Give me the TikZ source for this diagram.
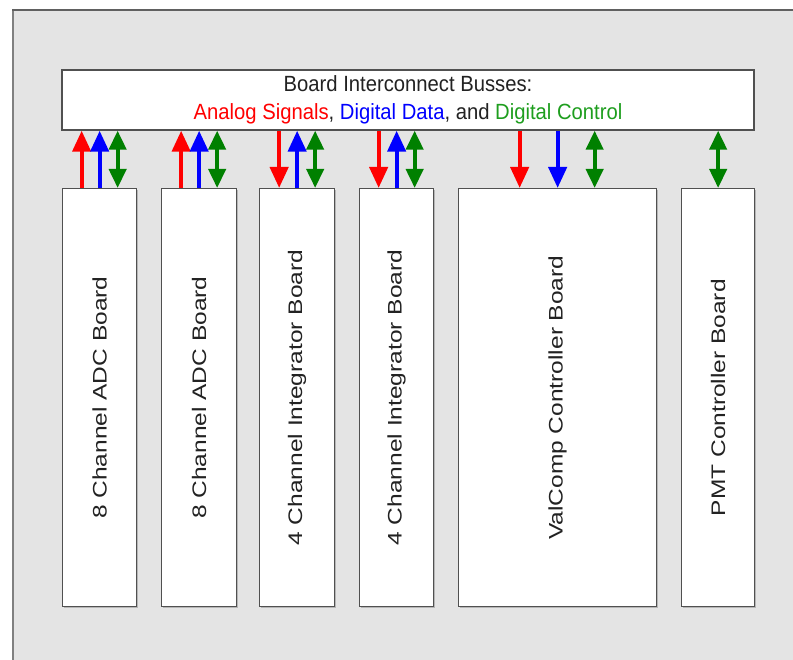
\documentclass[tikz,border=0pt]{standalone}
\usepackage{fontspec}
\setmainfont{Liberation Sans}
\newfontfamily\busfont[FakeStretch=0.92]{Liberation Sans}
\usetikzlibrary{arrows.meta,shadows}
\definecolor{bggray}{HTML}{E4E4E4}
\definecolor{edgegray}{HTML}{505050}
\definecolor{sigred}{HTML}{FF0000}
\definecolor{sigblue}{HTML}{0000FF}
\definecolor{siggreen}{HTML}{008000}
\definecolor{txtgreen}{HTML}{1E9E1E}
\definecolor{txtgray}{HTML}{222222}
\newcommand{\boardlabel}[1]{\rotatebox{90}{\scalebox{1}[0.8]{\fontsize{24.5}{28}\selectfont #1}}}
\begin{document}
\begin{tikzpicture}[x=1pt,y=-1pt,
  box/.style={draw=edgegray, line width=1.3pt, fill=white, inner sep=0pt, text=txtgray,
    drop shadow={shadow xshift=1pt, shadow yshift=-1.2pt, opacity=0.45}},
  board/.style={box, anchor=north west, minimum height=418pt},
  sig/.style={line width=4.2pt, -{Triangle[length=21pt,width=18pt]}},
  ctl/.style={line width=4pt, {Triangle[length=19pt,width=17pt]}-{Triangle[length=19pt,width=17pt]}, draw=siggreen}
]
\useasboundingbox (0,0) rectangle (793,660);
\fill[white] (0,0) rectangle (793,660);
\fill[bggray] (12,9) rectangle (793,660);
\draw[gray, line width=1.5pt] (12.75,9) -- (12.75,660);
\draw[gray!75!black, line width=2pt] (12,10) -- (793,10);

\node[box, minimum width=692pt, minimum height=60pt, align=center,
  font={\busfont\fontsize{22}{28}\selectfont}] (bus) at (408,100)
  {Board Interconnect Busses:\\
   {\color{sigred}Analog Signals}, {\color{sigblue}Digital Data}, and {\color{txtgreen}Digital Control}};

\node[board, minimum width=74pt] (b1) at (62,188) {\boardlabel{8 Channel ADC Board}};
\node[board, minimum width=75pt] (b2) at (161,188) {\boardlabel{8 Channel ADC Board}};
\node[board, minimum width=75pt] (b3) at (259,188) {\boardlabel{4 Channel Integrator Board}};
\node[board, minimum width=74pt] (b4) at (359,188) {\boardlabel{4 Channel Integrator Board}};
\node[board, minimum width=198pt] (b5) at (458,188) {\boardlabel{ValComp Controller Board}};
\node[board, minimum width=73pt] (b6) at (681,188) {\boardlabel{PMT Controller Board}};

% board 1 and 2: analog up, data up, control both
\foreach \b in {b1,b2}{
  \draw[sig, draw=sigred] ([xshift=-18pt]\b.north) -- ([xshift=-18pt]bus.south -| \b.north);
  \draw[sig, draw=sigblue] ([xshift=0pt]\b.north) -- ([xshift=0pt]bus.south -| \b.north);
  \draw[ctl] ([xshift=18pt]\b.north) -- ([xshift=18pt]bus.south -| \b.north);
}
% board 3 and 4: analog down, data up
\foreach \b in {b3,b4}{
  \draw[sig, draw=sigred] ([xshift=-18pt]bus.south -| \b.north) -- ([xshift=-18pt]\b.north);
  \draw[sig, draw=sigblue] ([xshift=0pt]\b.north) -- ([xshift=0pt]bus.south -| \b.north);
  \draw[ctl] ([xshift=18pt]\b.north) -- ([xshift=18pt]bus.south -| \b.north);
}
% ValComp
\draw[sig, draw=sigred] ([xshift=-38pt]bus.south -| b5.north) -- ([xshift=-38pt]b5.north);
\draw[sig, draw=sigblue] (bus.south -| b5.north) -- (b5.north);
\draw[ctl] ([xshift=37pt]b5.north) -- ([xshift=37pt]bus.south -| b5.north);
% PMT
\draw[ctl] (b6.north) -- (bus.south -| b6.north);
\end{tikzpicture}
\end{document}
